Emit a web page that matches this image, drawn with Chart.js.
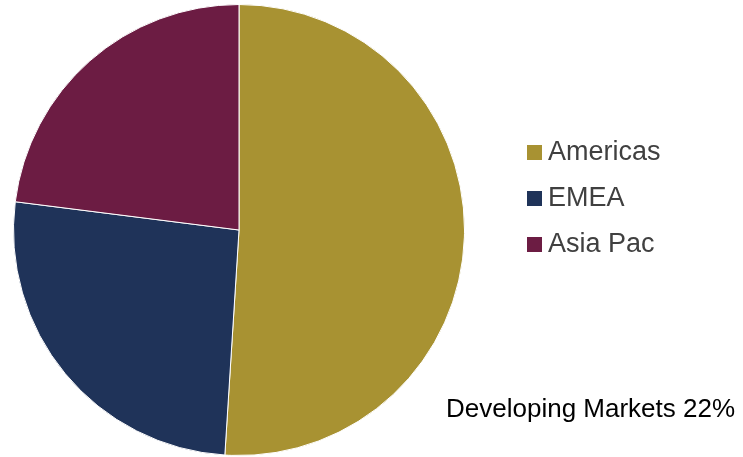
<!DOCTYPE html>
<html>
<head>
<meta charset="utf-8">
<script src="https://cdn.jsdelivr.net/npm/chart.js@4"></script>
<style>
    body { margin: 0; background: #fff; }
    .wrap { position: relative; width: 743px; height: 457px; }
    #pie { position: absolute; left: 0; top: 0; }
    .legend { position: absolute; left: 527px; top: 134px; font-family: Arial, "Liberation Sans", sans-serif; font-size: 27px; color: #404040; }
    .legend div { height: 46px; line-height: 34px; white-space: nowrap; }
    .legend span { display: inline-block; width: 15px; height: 15px; margin-right: 6px; vertical-align: 0px; }
    .note { position: absolute; left: 446px; top: 393px; font-family: Arial, "Liberation Sans", sans-serif; font-size: 26px; color: #000; white-space: nowrap; }
</style>
</head>
<body>
<div class="wrap">
    <canvas id="pie" width="743" height="457"></canvas>
    <div class="legend" id="legend"></div>
    <div class="note" id="note"></div>
</div>
<script>
var regions = ["Americas", "EMEA", "Asia Pac"];
var shares = [51, 26, 23];
var colors = ["#A89232", "#1F3359", "#6C1C43"];
var noteText = "Developing Markets 22%";

// legend built by hand so it sits where the original one is
var legend = document.getElementById('legend');
for (var i = 0; i < regions.length; i++) {
    var row = document.createElement('div');
    var box = document.createElement('span');
    box.style.background = colors[i];
    row.appendChild(box);
    row.appendChild(document.createTextNode(regions[i]));
    legend.appendChild(row);
}
document.getElementById('note').textContent = noteText;

var ctx = document.getElementById('pie').getContext('2d');
var myPie = new Chart(ctx, {
    type: 'pie',
    data: {
        labels: regions,
        datasets: [{
            data: shares,
            backgroundColor: colors,
            borderColor: '#ffffff',
            borderWidth: 1
        }]
    },
    options: {
        responsive: false,
        animation: false,
        layout: { padding: { left: 13, right: 278, top: 4, bottom: 1 } },
        plugins: {
            legend: { display: false },
            tooltip: { enabled: false }
        }
    }
});
</script>
</body>
</html>
